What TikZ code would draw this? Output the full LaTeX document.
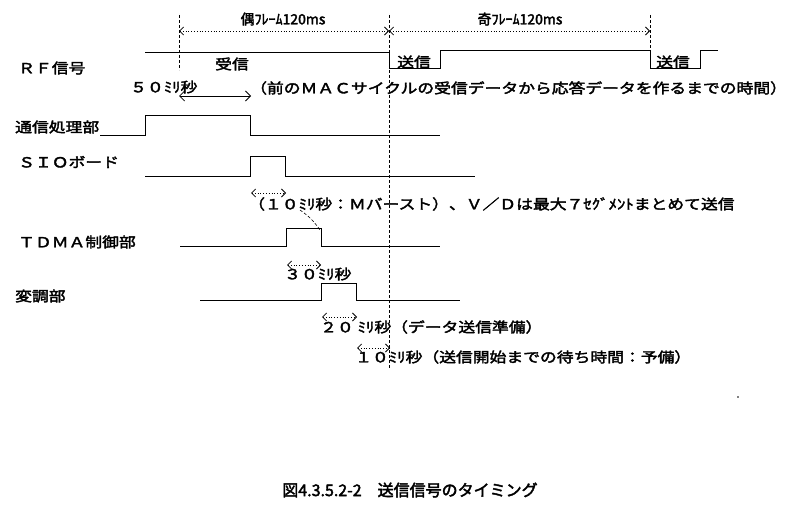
\documentclass[tikz,border=0pt]{standalone}
\usepackage{fontspec}
\newfontfamily\jp[FakeStretch=1.2,FakeBold=2.5]{Noto Sans CJK JP}
\newfontfamily\jpn[FakeBold=2.5]{Noto Sans CJK JP}
\usetikzlibrary{arrows.meta}
\begin{document}
\begin{tikzpicture}[x=1pt,y=-1pt,
 sig/.style={line width=0.9pt},
 lab/.style={font=\jp\fontsize{14}{14}\selectfont,inner sep=0,anchor=west},
 sml/.style={font=\jpn\fontsize{14}{14}\selectfont,inner sep=0},
 darr/.style={dotted,line width=0.8pt,{Straight Barb[length=4pt]}-{Straight Barb[length=4pt]}},
 vdash/.style={densely dashed,line width=0.6pt}]
\useasboundingbox (0,0) rectangle (800,505);
% vertical dashed
\coordinate (v1t) at (179,15); \coordinate (v1b) at (179,70);
\coordinate (v2t) at (389,15); \coordinate (v2b) at (389,368);
\coordinate (v3t) at (650,15); \coordinate (v3b) at (650,60);
\draw[vdash] (v1t)--(v1b); \draw[vdash] (v2t)--(v2b); \draw[vdash] (v3t)--(v3b);
\coordinate (a1) at (179,31); \coordinate (a2) at (389,31); \coordinate (a3) at (650,31);
\draw[darr] (a1)--(a2); \draw[darr] (a2)--(a3);
\node[sml] (f1) at (283,19) {偶ﾌﾚｰﾑ120ms};
\node[sml] (f2) at (520,19) {奇ﾌﾚｰﾑ120ms};
% RF
\node[lab] (l1) at (18,68) {ＲＦ信号};
\draw[sig] (145,52)--(389,52)--(389,68)--(440,68)--(440,50)--(650,50)--(650,68)--(700,68)--(700,50)--(718,50);
\node[lab,anchor=center] (r1) at (232,64) {受信};
\node[lab,anchor=center] (r2) at (414,62) {送信};
\node[lab,anchor=center] (r3) at (673,62) {送信};
\node[lab] (t50) at (130,87) {５０ﾐﾘ秒};
\coordinate (b1) at (179,96); \coordinate (b2) at (251,96);
\draw[line width=0.8pt,{Straight Barb[length=5pt]}-{Straight Barb[length=5pt]}] (b1)--(b2);
\node[lab] (tm) at (250,88) {（前のＭＡＣサイクルの受信データから応答データを作るまでの時間）};
% 通信処理部
\node[lab] (l2) at (15,127) {通信処理部};
\draw[sig] (100,135)--(145,135)--(145,115)--(250,115)--(250,135)--(440,135);
% SIO
\node[lab] (l3) at (18,162) {ＳＩＯボード};
\draw[sig] (145,176)--(250,176)--(250,156)--(285,156)--(285,176)--(475,176);
\coordinate (c1) at (251,193); \coordinate (c2) at (286,193);
\draw[darr] (c1)--(c2);
\node[lab] (tb) at (248,204) {（１０ﾐﾘ秒：Ｍバースト）、Ｖ／Ｄは最大７ｾｸﾞﾒﾝﾄまとめて送信};
\coordinate (d1) at (300,210); \coordinate (d2) at (320,230);
\draw[vdash] (d1) to[bend left=10] (d2);
% TDMA
\node[lab] (l4) at (18,242) {ＴＤＭＡ制御部};
\draw[sig] (180,246)--(286,246)--(286,228)--(321,228)--(321,246)--(440,246);
\coordinate (e1) at (287,265); \coordinate (e2) at (321,265);
\draw[darr] (e1)--(e2);
\node[lab] (t30) at (284,274) {３０ﾐﾘ秒};
% 変調部
\node[lab] (l5) at (15,296) {変調部};
\draw[sig] (200,300)--(321,300)--(321,283)--(356,283)--(356,300)--(460,300);
\coordinate (g1) at (322,317); \coordinate (g2) at (357,317);
\draw[darr] (g1)--(g2);
\node[lab] (t20) at (320,327) {２０ ﾐﾘ秒（データ送信準備）};
\coordinate (h1) at (357,348); \coordinate (h2) at (390,348);
\draw[darr] (h1)--(h2);
\node[lab] (t10) at (355,357) {１０ﾐﾘ秒（送信開始までの待ち時間：予備）};
\fill (738,397) circle (0.8);
\node[font=\jpn\fontsize{16}{16}\selectfont,inner sep=0] (cap) at (410,490) {図4.3.5.2-2\quad 送信信号のタイミング};
\end{tikzpicture}
\end{document}
